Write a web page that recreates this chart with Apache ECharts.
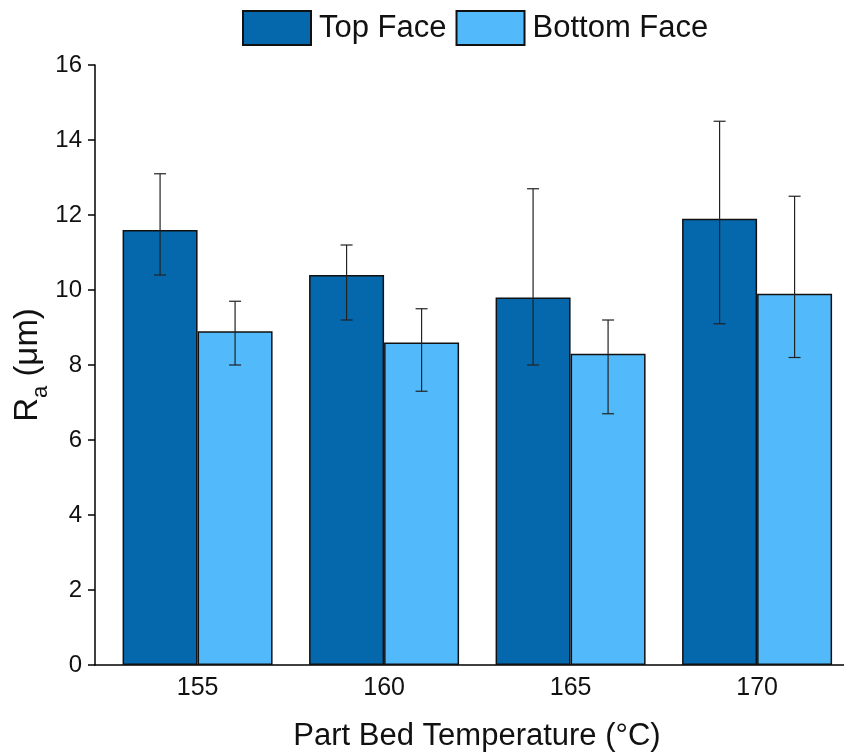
<!DOCTYPE html>
<html>
<head>
<meta charset="utf-8">
<script src="https://cdn.jsdelivr.net/npm/echarts@6/dist/echarts.min.js"></script>
<style>html,body{margin:0;padding:0;background:#fff;}#c{width:844px;height:753px;}</style>
</head>
<body>
<div id="c"></div>
<script>
var categories = [155, 160, 165, 170];
var topFace = [11.6, 10.4, 9.8, 11.9];
var topLow = [10.4, 9.2, 8.0, 9.1];
var topHigh = [13.1, 11.2, 12.7, 14.5];
var bottomFace = [8.9, 8.6, 8.3, 9.9];
var bottomLow = [8.0, 7.3, 6.7, 8.2];
var bottomHigh = [9.7, 9.5, 9.2, 12.5];
var yTicks = [0, 2, 4, 6, 8, 10, 12, 14, 16];

var BAR_W = 75;
var FONT = '"Liberation Sans", Arial, sans-serif';

function pairs(vals) { return categories.map(function (c, i) { return [c, vals[i]]; }); }
function errData(lo, hi) { return categories.map(function (c, i) { return [c, lo[i], hi[i]]; }); }

function errRender(offset) {
  return function (params, api) {
    var x = api.value(0);
    var pLo = api.coord([x, api.value(1)]);
    var pHi = api.coord([x, api.value(2)]);
    var cx = pLo[0] + offset;
    var cap = 6;
    var st = { stroke: '#222', lineWidth: 1.2 };
    return {
      type: 'group',
      children: [
        { type: 'line', shape: { x1: cx, y1: pHi[1], x2: cx, y2: pLo[1] }, style: st },
        { type: 'line', shape: { x1: cx - cap, y1: pHi[1], x2: cx + cap, y2: pHi[1] }, style: st },
        { type: 'line', shape: { x1: cx - cap, y1: pLo[1], x2: cx + cap, y2: pLo[1] }, style: st }
      ]
    };
  };
}

var chart = echarts.init(document.getElementById('c'), null, { renderer: 'canvas' });
chart.setOption({
  backgroundColor: '#ffffff',
  animation: false,
  textStyle: { fontFamily: FONT },
  legend: {
    data: ['Top Face', 'Bottom Face'],
    left: 242, top: 10, padding: 0,
    itemWidth: 68, itemHeight: 34, itemGap: 9,
    textStyle: { fontSize: 31, color: '#111', fontFamily: FONT, padding: [0, 0, 0, 3] },
    icon: 'rect'
  },
  grid: { left: 95, right: 0, top: 65, bottom: 88, outerBoundsMode: 'none', containLabel: false },
  xAxis: {
    type: 'value',
    min: 152.25, max: 172.33,
    splitLine: { show: false },
    axisLine: { show: true, onZero: false, lineStyle: { color: '#000', width: 1.5 } },
    axisTick: { show: false },
    axisLabel: { customValues: categories, fontSize: 25, color: '#111', margin: 11, fontFamily: FONT },
    name: 'Part Bed Temperature (°C)',
    nameLocation: 'middle', nameGap: 56, nameMoveOverlap: false,
    nameTextStyle: { fontSize: 31, color: '#111', fontFamily: FONT, padding: [0, 0, 0, 15] }
  },
  yAxis: {
    type: 'value',
    min: 0, max: 16, interval: 2,
    splitLine: { show: false },
    axisLine: { show: true, lineStyle: { color: '#000', width: 1.5 } },
    axisTick: { show: true, length: 7, lineStyle: { color: '#000', width: 1.5 } },
    axisLabel: { fontSize: 24, color: '#111', margin: 13, fontFamily: FONT,
      customValues: yTicks },
    name: '{r|R}{s|a}{r| (μm)}',
    nameLocation: 'middle', nameRotate: 90, nameGap: 43, nameMoveOverlap: false,
    nameTextStyle: {
      fontFamily: FONT, color: '#111',
      rich: {
        r: { fontSize: 33, color: '#111', fontFamily: FONT },
        s: { fontSize: 22, color: '#111', fontFamily: FONT, padding: [26, 0, 0, 0] }
      }
    }
  },
  series: [
    {
      name: 'Top Face', type: 'bar', data: pairs(topFace),
      barWidth: BAR_W, barGap: '0%',
      itemStyle: { color: '#0668AC', borderColor: '#111', borderWidth: 1.5 }
    },
    {
      name: 'Bottom Face', type: 'bar', data: pairs(bottomFace),
      barWidth: BAR_W, barGap: '0%',
      itemStyle: { color: '#52BAFA', borderColor: '#111', borderWidth: 1.5 }
    },
    {
      name: 'Top Face err', type: 'custom', data: errData(topLow, topHigh),
      renderItem: errRender(-BAR_W / 2), encode: { x: 0, y: [1, 2] }, z: 5, silent: true
    },
    {
      name: 'Bottom Face err', type: 'custom', data: errData(bottomLow, bottomHigh),
      renderItem: errRender(BAR_W / 2), encode: { x: 0, y: [1, 2] }, z: 5, silent: true
    }
  ]
});
</script>
</body>
</html>
